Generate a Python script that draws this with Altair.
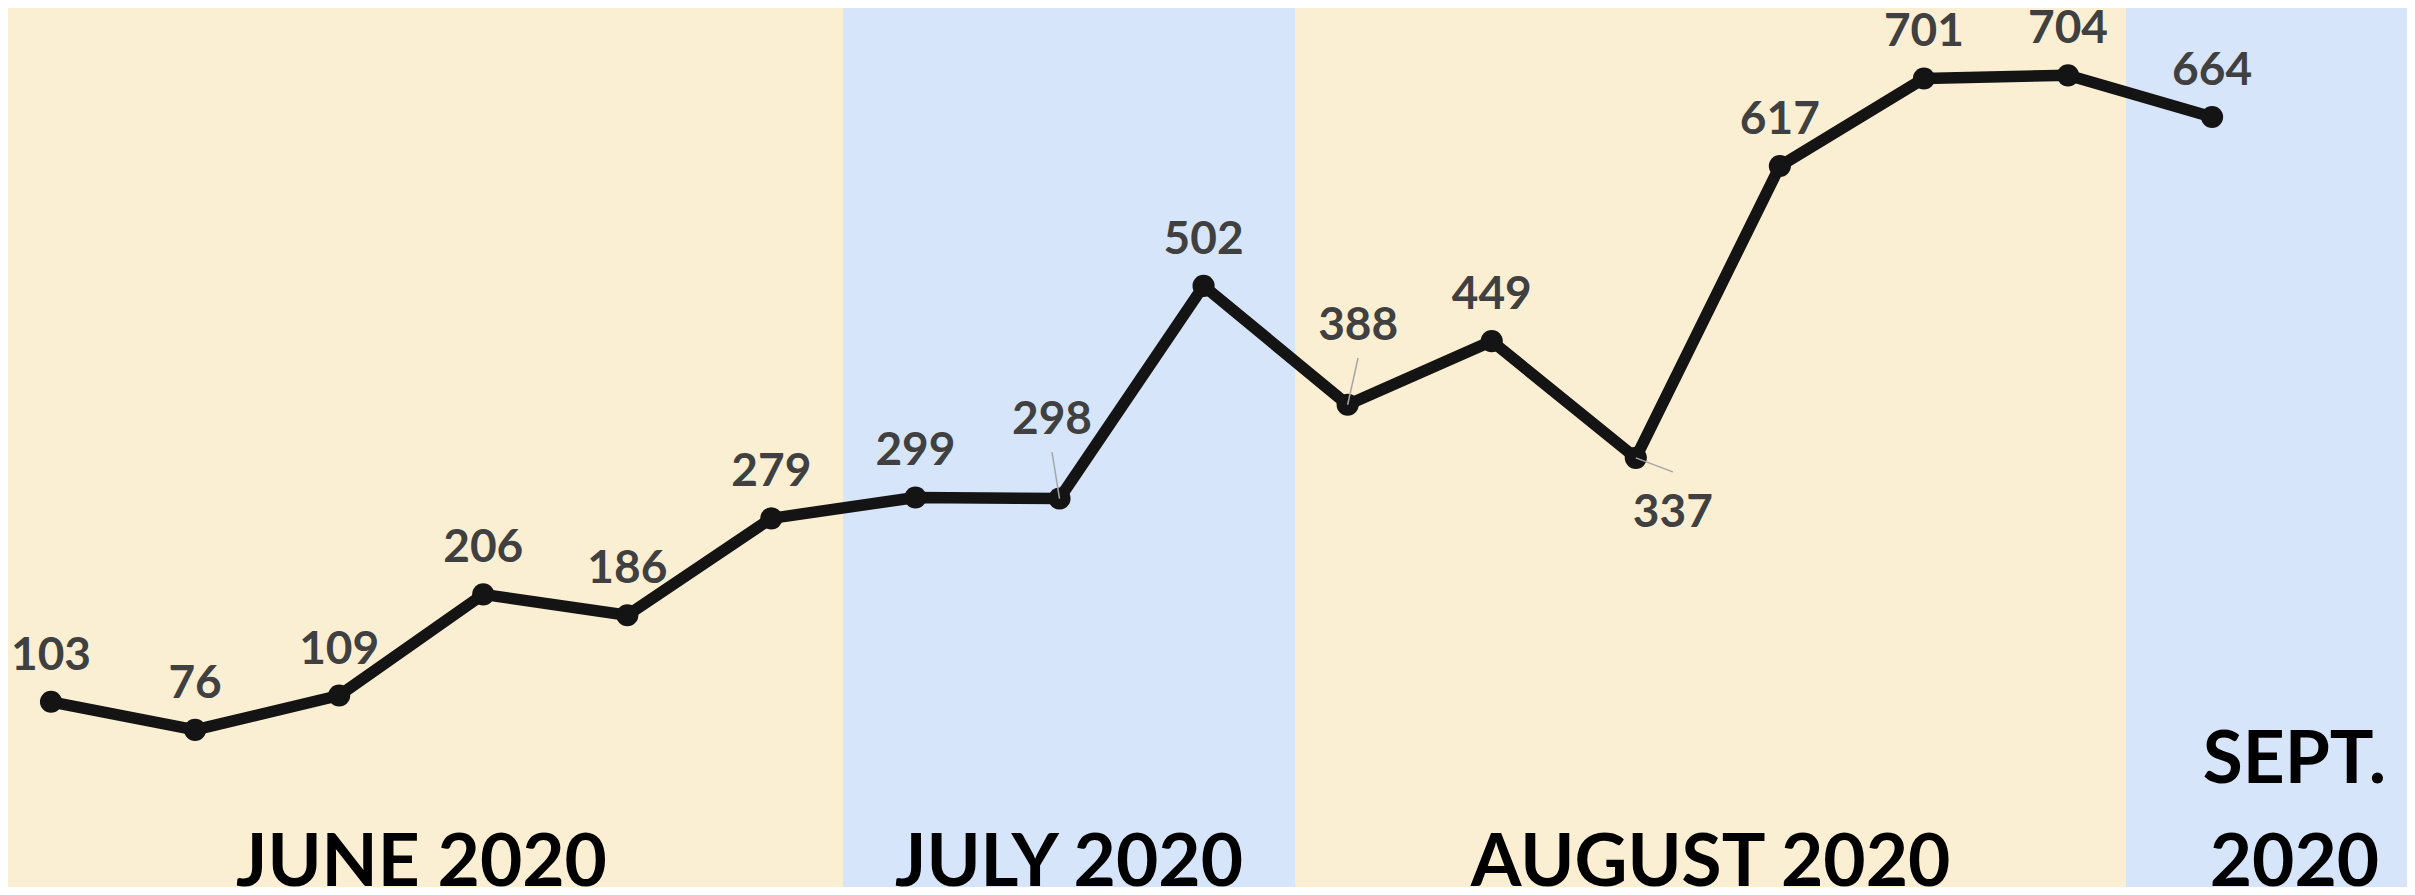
import altair as alt
import pandas as pd

# ---- data ----
values = [103, 76, 109, 206, 186, 279, 299, 298, 502, 388, 449, 337, 617, 701, 704, 664]
idx = list(range(len(values)))

months = ["June", "July", "August", "September"]
month_line1 = ["", "", "", "SEPT."]
month_line2 = ["JUNE 2020", "JULY 2020", "AUGUST 2020", "2020"]
month_start = [-0.354, 5.497, 8.635, 14.403]
month_end = [5.497, 8.635, 14.403, 16.74]

# ---- tables ----
pts = pd.DataFrame({"i": idx, "v": values, "lab": [str(v) for v in values]})
bands = pd.DataFrame({"month": months, "start": month_start, "end": month_end,
                      "l1": month_line1, "l2": month_line2})

W, H = 2399, 879
xs = alt.Scale(domain=[-0.2985, 16.353], nice=False, zero=False)
ys = alt.Scale(domain=[-74.7, 768.6], nice=False, zero=False)

TAN, BLUE = "#FAEFD2", "#D6E5FA"
INK = "#141414"
LABEL = "#404040"
FONT = "Lato"

band_layer = alt.Chart(bands).mark_rect(clip=True).encode(
    x=alt.X("start:Q", scale=xs, axis=None),
    x2="end:Q",
    y=alt.value(0),
    y2=alt.value(H),
    color=alt.Color("month:N", scale=alt.Scale(domain=months, range=[TAN, BLUE, TAN, BLUE]), legend=None),
)

base = alt.Chart(pts).encode(
    x=alt.X("i:Q", scale=xs, axis=None),
    y=alt.Y("v:Q", scale=ys, axis=None),
)

line = base.mark_line(color=INK, strokeWidth=11.5, strokeJoin="round", strokeCap="round")
dots = base.mark_circle(color=INK, size=490, opacity=1)

# label placement (styling): default above the point; a few are displaced with leader lines
special = {
    7: dict(dx=-7.5, dy=-65, lx=-7.5, ly=-46.5),
    9: dict(dx=10.5, dy=-65, lx=10.4, ly=-46.7),
    11: dict(dx=37, dy=69, lx=37, ly=14),
}
sp_list = list(special.keys())

labels = base.transform_filter(
    alt.FieldOneOfPredicate(field="i", oneOf=[k for k in idx if k not in sp_list])
).mark_text(font=FONT, fontWeight="bold", fontSize=46, color=LABEL,
            baseline="alphabetic", align="center", dy=-32).encode(text="lab:N")

layers = [band_layer, line, dots, labels]
for k, s in special.items():
    sel = base.transform_filter(alt.datum.i == k)
    layers.append(
        sel.mark_rule(color="#A6A6A6", strokeWidth=1.5, x2Offset=s["lx"], y2Offset=s["ly"]).encode(
            x2="i:Q", y2="v:Q")
    )
    layers.append(
        sel.mark_text(font=FONT, fontWeight="bold", fontSize=46, color=LABEL,
                      baseline="alphabetic", align="center", dx=s["dx"], dy=s["dy"]).encode(text="lab:N")
    )

mbase = alt.Chart(bands).transform_calculate(mid="(datum.start + datum.end) / 2").encode(
    x=alt.X("mid:Q", scale=xs, axis=None)
)
mlab2 = mbase.mark_text(font=FONT, fontWeight="bold", fontSize=73, color="#000000",
                        baseline="alphabetic", align="center").encode(
    y=alt.value(H - 1), text="l2:N")
mlab1 = mbase.mark_text(font=FONT, fontWeight="bold", fontSize=73, color="#000000",
                        baseline="alphabetic", align="center").encode(
    y=alt.value(775), text="l1:N")
layers += [mlab2, mlab1]

chart = alt.layer(*layers).properties(
    width=W, height=H,
    autosize=alt.AutoSizeParams(type="none"),
    padding=0,
    background=TAN,
).configure_view(stroke=None)

chart.save("out.html", embed_options={"renderer": "svg", "actions": False})
